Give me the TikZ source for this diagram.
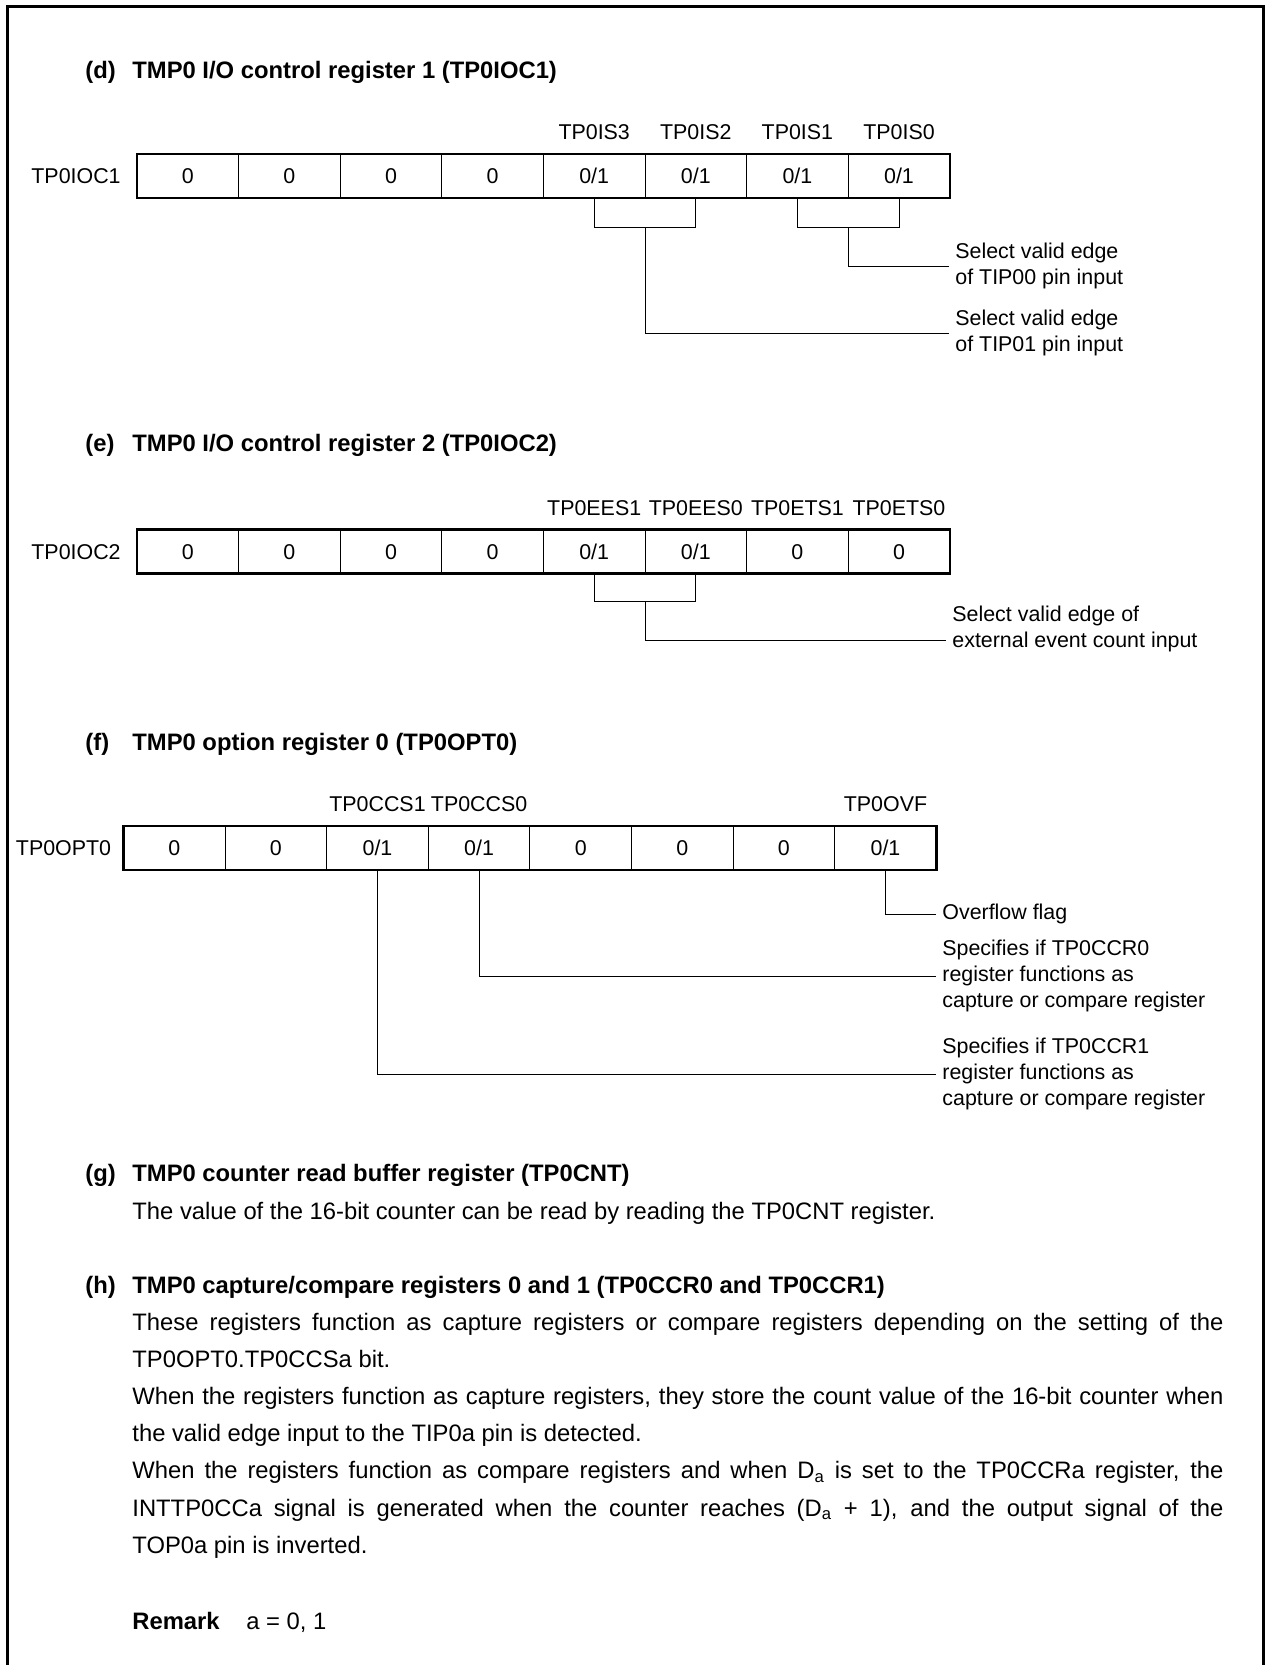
\documentclass[tikz,border=0pt]{standalone}
\usepackage{fontspec}
\setmainfont{Liberation Sans}
\usetikzlibrary{positioning,calc}
\newcommand{\regsize}{\fontsize{10.7}{13}\selectfont}
\newcommand{\txtsize}{\fontsize{11.9}{18.6}\selectfont}

\begin{document}
\begin{tikzpicture}[
        x=0.5pt, y=-0.5pt,
        cell/.style={draw, line width=0.5pt, minimum width=50.8pt, minimum height=22pt, inner sep=0pt, outer sep=0pt, font=\regsize, text height=7.6pt, text depth=0pt},
        regframe/.style={draw, line width=1.3pt},
        reglabel/.style={inner sep=0pt, font=\regsize, text height=7.6pt, text depth=0pt},
        bitname/.style={inner sep=0pt, font=\regsize, text height=7.6pt, text depth=0pt},
        lead/.style={line width=0.5pt},
        desc/.style={inner xsep=3pt, inner ysep=0pt, align=left, font=\regsize},
        sectitle/.style={inner sep=0pt, anchor=base west, font=\txtsize\bfseries},
        bodytext/.style={inner sep=0pt, anchor=base west, font=\txtsize}
    ]
        \useasboundingbox (0,0) rectangle (1266,1665);

        % Page frame
        \draw[line width=1.5pt] (7.5,1665) -- (7.5,6.5) -- (1263,6.5) -- (1263,1665);

        % (d) TP0IOC1
        \node[sectitle] (dtag) at (85,78) {(d)};
        \node[sectitle] (dtitle) at (132,78) {TMP0 I/O control register 1 (TP0IOC1)};
        \node[cell] (d1) at (187.8,176) {0};
        \node[cell, right=0pt of d1] (d2) {0};
        \node[cell, right=0pt of d2] (d3) {0};
        \node[cell, right=0pt of d3] (d4) {0};
        \node[cell, right=0pt of d4] (d5) {0/1};
        \node[cell, right=0pt of d5] (d6) {0/1};
        \node[cell, right=0pt of d6] (d7) {0/1};
        \node[cell, right=0pt of d7] (d8) {0/1};
        \draw[regframe] (d1.north west) rectangle (d8.south east);
        \node[reglabel, left=8pt of d1] (dname) {TP0IOC1};
        \node[bitname, above=7pt of d5] (tp0is3) {TP0IS3};
        \node[bitname, above=7pt of d6] (tp0is2) {TP0IS2};
        \node[bitname, above=7pt of d7] (tp0is1) {TP0IS1};
        \node[bitname, above=7pt of d8] (tp0is0) {TP0IS0};
        \node[desc, anchor=west] (tip00desc) at (949,266) {Select valid edge\\of TIP00 pin input};
        \node[desc, anchor=west] (tip01desc) at (949,333) {Select valid edge\\of TIP01 pin input};
        \draw[lead] (d5.south) -- ++(0,29) -| (d6.south);
        \draw[lead] (d7.south) -- ++(0,29) -| (d8.south);
        \draw[lead] ($(d7.south)!.5!(d8.south)+(0,29)$) |- (tip00desc.west);
        \draw[lead] ($(d5.south)!.5!(d6.south)+(0,29)$) |- (tip01desc.west);

        % (e) TP0IOC2
        \node[sectitle] (etag) at (85,451) {(e)};
        \node[sectitle] (etitle) at (132,451) {TMP0 I/O control register 2 (TP0IOC2)};
        \node[cell] (e1) at (187.8,551.5) {0};
        \node[cell, right=0pt of e1] (e2) {0};
        \node[cell, right=0pt of e2] (e3) {0};
        \node[cell, right=0pt of e3] (e4) {0};
        \node[cell, right=0pt of e4] (e5) {0/1};
        \node[cell, right=0pt of e5] (e6) {0/1};
        \node[cell, right=0pt of e6] (e7) {0};
        \node[cell, right=0pt of e7] (e8) {0};
        \draw[regframe] (e1.north west) rectangle (e8.south east);
        \node[reglabel, left=8pt of e1] (ename) {TP0IOC2};
        \node[bitname, above=7pt of e5] (tp0ees1) {TP0EES1};
        \node[bitname, above=7pt of e6] (tp0ees0) {TP0EES0};
        \node[bitname, above=7pt of e7] (tp0ets1) {TP0ETS1};
        \node[bitname, above=7pt of e8] (tp0ets0) {TP0ETS0};
        \node[desc, anchor=base west] (eesdesc) at (946,647.6) {Select valid edge of\\external event count input};
        \draw[lead] (e5.south) -- ++(0,28) -| (e6.south);
        \draw[lead] ($(e5.south)!.5!(e6.south)+(0,28)$) |- ([yshift=3.8pt]eesdesc.base west);

        % (f) TP0OPT0
        \node[sectitle] (ftag) at (85,750) {(f)};
        \node[sectitle] (ftitle) at (132,750) {TMP0 option register 0 (TP0OPT0)};
        \node[cell] (f1) at (174.3,848) {0};
        \node[cell, right=0pt of f1] (f2) {0};
        \node[cell, right=0pt of f2] (f3) {0/1};
        \node[cell, right=0pt of f3] (f4) {0/1};
        \node[cell, right=0pt of f4] (f5) {0};
        \node[cell, right=0pt of f5] (f6) {0};
        \node[cell, right=0pt of f6] (f7) {0};
        \node[cell, right=0pt of f7] (f8) {0/1};
        \draw[regframe] (f1.north west) rectangle (f8.south east);
        \node[reglabel, left=6pt of f1] (fname) {TP0OPT0};
        \node[bitname, above=7pt of f3] (tp0ccs1) {TP0CCS1};
        \node[bitname, above=7pt of f4] (tp0ccs0) {TP0CCS0};
        \node[bitname, above=7pt of f8] (tp0ovf) {TP0OVF};
        \node[desc, anchor=west] (ovfdesc) at (936,914) {Overflow flag};
        \node[desc, anchor=west] (ccr0desc) at (936,976) {Specifies if TP0CCR0\\register functions as\\capture or compare register};
        \node[desc, anchor=west] (ccr1desc) at (936,1074) {Specifies if TP0CCR1\\register functions as\\capture or compare register};
        \draw[lead] (f8.south) |- (ovfdesc.west);
        \draw[lead] (f4.south) |- (ccr0desc.west);
        \draw[lead] (f3.south) |- (ccr1desc.west);

        % (g) TP0CNT
        \node[sectitle] (gtag) at (85,1181) {(g)};
        \node[sectitle] (gtitle) at (132,1181) {TMP0 counter read buffer register (TP0CNT)};
        \node[bodytext] (gbody) at (132,1219) {The value of the 16-bit counter can be read by reading the TP0CNT register.};

        % (h) TP0CCR0, TP0CCR1
        \node[sectitle] (htag) at (85,1293) {(h)};
        \node[sectitle] (htitle) at (132,1293) {TMP0 capture/compare registers 0 and 1 (TP0CCR0 and TP0CCR1)};
        \node[bodytext, text width=545.5pt, align=justify] (hbody) at (132,1330) {These registers function as capture registers or compare registers depending on the setting of the\linebreak TP0OPT0.TP0CCSa bit.\par
        When the registers function as capture registers, they store the count value of the 16-bit counter when\linebreak the valid edge input to the TIP0a pin is detected.\par
        When the registers function as compare registers and when D\textsubscript{a} is set to the TP0CCRa register, the\linebreak INTTP0CCa signal is generated when the counter reaches (D\textsubscript{a} + 1), and the output signal of the\linebreak TOP0a pin is inverted.};

        % Remark
        \node[sectitle] (remtag) at (132,1629) {Remark};
        \node[bodytext] (remtext) at (246,1629) {a = 0, 1};

    \end{tikzpicture}
\end{document}
